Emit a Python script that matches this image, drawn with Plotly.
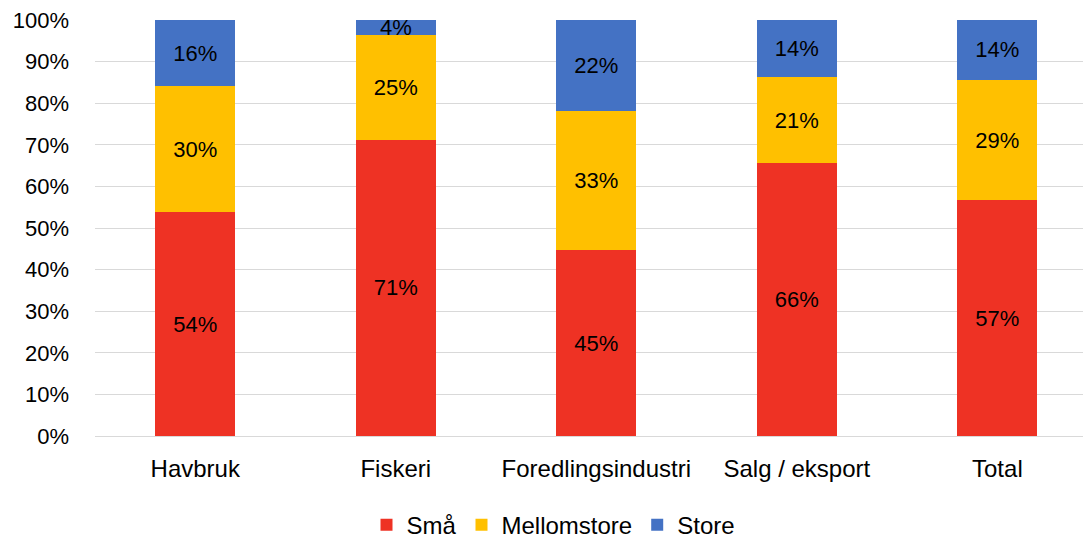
import plotly.graph_objects as go

categories = ["Havbruk", "Fiskeri", "Foredlingsindustri", "Salg / eksport", "Total"]
sma = [53.8, 71.2, 44.7, 65.6, 56.7]
mellomstore = [30.3, 25.2, 33.4, 20.6, 28.9]
store = [15.9, 3.6, 21.9, 13.8, 14.4]

series = [("Små", sma, "#EE3224"), ("Mellomstore", mellomstore, "#FFC000"), ("Store", store, "#4472C4")]

FONT = "Liberation Sans"
FS = 22
fig = go.Figure()
for name, vals, col in series:
    fig.add_trace(go.Bar(
        x=categories, y=vals, name=name, marker=dict(color=col, line=dict(width=0)),
        texttemplate="%{y:.0f}%", textposition="inside", insidetextanchor="middle",
        constraintext="none", textangle=0,
        textfont=dict(family=FONT, size=FS, color="black"),
        hoverinfo="skip",
    ))

fig.update_layout(
    barmode="stack", bargap=0.6,
    width=1091, height=537,
    margin=dict(l=87, r=8, t=12, b=109),
    plot_bgcolor="white", paper_bgcolor="white",
    font=dict(family=FONT, size=FS, color="black"),
    legend=dict(orientation="h", x=0.5, xanchor="center", xref="container",
                y=0.037, yanchor="middle", yref="container",
                font=dict(family=FONT, size=24), traceorder="normal"),
    xaxis=dict(range=[-0.5, 4.467], showgrid=False, showline=False, ticks="",
               tickfont=dict(family=FONT, size=24), ticklabelstandoff=16, automargin=False),
    yaxis=dict(range=[0, 100], dtick=10, ticksuffix="%", showgrid=True, gridcolor="#D9D9D9",
               gridwidth=1.3, zeroline=True, zerolinecolor="#D9D9D9", zerolinewidth=1.3,
               showline=False, ticks="", tickfont=dict(family=FONT, size=FS), ticklabelstandoff=25,
               ticklabeloverflow="allow", automargin=False),
)

fig.write_html("out.html")
